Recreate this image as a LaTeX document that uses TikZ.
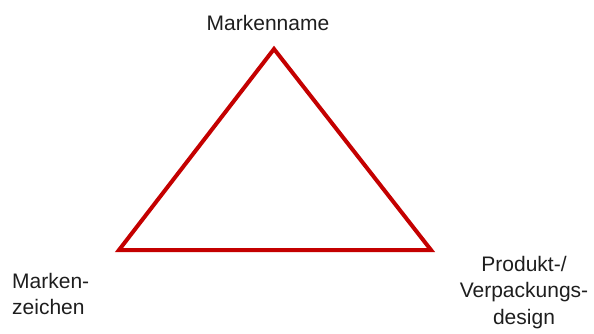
\documentclass[tikz,border=0pt]{standalone}
\usepackage{fontspec}
\setmainfont{Liberation Sans}
\definecolor{tri}{RGB}{196,0,0}
\definecolor{txt}{RGB}{30,30,30}
\begin{document}
\begin{tikzpicture}[x=1pt,y=-1pt,
  lbl/.style={font=\fontsize{21}{26.5}\selectfont, text=txt, inner sep=0pt},
  edge/.style={draw=tri, line width=4pt, line join=miter}]
\useasboundingbox (0,0) rectangle (594,334);
\coordinate (t) at (274,49);
\coordinate (l) at (119,250);
\coordinate (r) at (431,250);
\draw[edge] (t) -- (l) -- (r) -- cycle;
\node[lbl, anchor=base] (name) at (268,31) {Markenname};
\node[lbl, anchor=north west, align=left] (zeichen) at (12,273) {Marken-\\zeichen};
\node[lbl, anchor=north, align=center] (design) at (524,256) {Produkt-/\\Verpackungs-\\design};
\end{tikzpicture}
\end{document}
